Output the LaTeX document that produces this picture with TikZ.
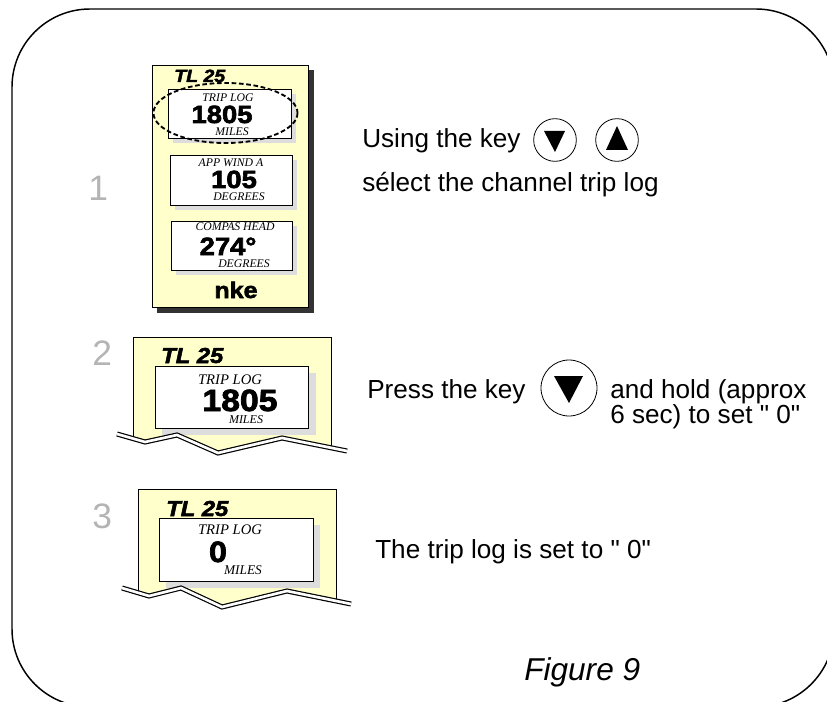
\documentclass[tikz,border=0pt]{standalone}
\usepackage{fontspec}
\setmainfont{Liberation Sans}
\newfontfamily\txtfont{Liberation Sans}
\newfontfamily\lcdfont{Liberation Serif}
\newfontfamily\heavyfont[UprightFont=* Bold, ItalicFont=* Bold Italic, FakeBold=2.5, FakeStretch=1.1]{Liberation Sans}
\newcommand{\fsz}[1]{\fontsize{#1}{#1}\selectfont}
\definecolor{panelyellow}{HTML}{FFFFCC}
\definecolor{lcdshade}{HTML}{DDDDDD}
\definecolor{stepgray}{HTML}{B4B4B4}
\tikzset{
  txt/.style={anchor=base west,inner sep=0pt,font={\txtfont\fsz{19.6}}},
  steplabel/.style={anchor=base west,inner sep=0pt,text=stepgray,font=\fsz{26.5}},
  lcdtitle/.style={anchor=base,inner sep=0pt,font={\lcdfont\itshape\fsz{#1}}},
  lcdvalue/.style={anchor=base,inner sep=0pt,font={\heavyfont\fsz{#1}}},
  tlname/.style={anchor=base west,inner sep=0pt,font={\heavyfont\itshape\fsz{#1}}},
  keyring/.style={circle,draw,line width=0.6pt,inner sep=0pt,minimum size=#1},
  breakline/.style={line width=0.9pt,double=white,double distance=2pt},
}
\begin{document}
\begin{tikzpicture}[x=0.75pt,y=0.75pt,yscale=-1,xscale=1]
\useasboundingbox (0,0) rectangle (827,702);

%Shape: Outer frame
\draw [line width=1.1pt, rounded corners=58.5pt] (12,9) rectangle (834,707);

%Shape: Panel 1
\fill [black!80] (157,70) rectangle (314,313);
\draw [fill=panelyellow, line width=0.6pt] (152,65) rectangle (308,307);
%Shape: Displays of panel 1
\fill [lcdshade] (173,94) rectangle (296,143);
\draw [fill=white, line width=0.6pt] (168,89) rectangle (291,138);
\fill [lcdshade] (175,160) rectangle (297,210);
\draw [fill=white, line width=0.6pt] (170,155) rectangle (292,205);
\fill [lcdshade] (176,226) rectangle (297,275);
\draw [fill=white, line width=0.6pt] (171,221) rectangle (292,270);

% Text Node
\node [tlname=13.3] (tlone) at (174,82) {TL 25};
\node [lcdtitle=8.8] (titleone) at (228,102) {TRIP LOG};
\node [lcdvalue=18.7] (valueone) at (222,123) {1805};
\node [lcdtitle=8.8] (unitone) at (232,136) {MILES};
\node [lcdtitle=8.8] (titletwo) at (231,167) {APP WIND A};
\node [lcdvalue=18.7] (valuetwo) at (234,188) {105};
\node [lcdtitle=8.8] (unittwo) at (239,201) {DEGREES};
\node [lcdtitle=8.8] (titlethree) at (235,230) {COMPAS HEAD};
\node [lcdvalue=18.7] (valuethree) at (228,255) {274°};
\node [lcdtitle=8.8] (unitthree) at (244,267) {DEGREES};
\node [lcdvalue=17] (brand) at (236,298) {nke};

%Shape: Dashed ellipse
\draw [line width=1.4pt, dash pattern={on 3.5pt off 2pt}] (225.5,113) ellipse [x radius=72, y radius=30];

%Shape: Panel 2
\fill [panelyellow] (133,439) -- (133,337) -- (331,337) -- (331,448) -- (282,438) -- (218,453) -- (177,435) -- (145,442) -- cycle;
\draw [line width=0.6pt] (133,439) -- (133,337) -- (331,337) -- (331,448);
\fill [lcdshade] (162,373) rectangle (316,435);
\draw [fill=white, line width=0.6pt] (155,366) rectangle (308,428);
%Straight Lines: Break of panel 2
\draw [breakline] (117,434) -- (145,442) -- (177,435) -- (218,453) -- (282,438) -- (347,451);

% Text Node
\node [tlname=16.2] (tlpress) at (161,363) {TL 25};
\node [lcdtitle=11] (titlepress) at (230,384) {TRIP LOG};
\node [lcdvalue=23] (valuepress) at (240,411) {1805};
\node [lcdtitle=9] (unitpress) at (246,423) {MILES};

%Shape: Panel 3
\fill [panelyellow] (138,593) -- (138,489) -- (336,489) -- (336,601) -- (287,591) -- (222,607) -- (181,588) -- (149,596) -- cycle;
\draw [line width=0.6pt] (138,593) -- (138,489) -- (336,489) -- (336,601);
\fill [lcdshade] (166,525) rectangle (320,588);
\draw [fill=white, line width=0.6pt] (159,518) rectangle (313,581);
%Straight Lines: Break of panel 3
\draw [breakline] (122,588) -- (149,596) -- (181,588) -- (222,607) -- (287,591) -- (351,604);

% Text Node
\node [tlname=16.2] (tlzero) at (166,516) {TL 25};
\node [lcdtitle=11] (titlezero) at (230,534) {TRIP LOG};
\node [lcdvalue=22] (valuezero) at (218,562) {0};
\node [lcdtitle=10] (unitzero) at (243,574) {MILES};

% Text Node
\node [steplabel] (stepone) at (88,201) {1};
\node [steplabel] (steptwo) at (92,365) {2};
\node [steplabel] (stepthree) at (92,528) {3};

%Shape: Keys
\node [keyring=32pt] (keydown) at (555,140) {};
\fill (544,131) -- (565,131) -- (555,152) -- cycle;
\node [keyring=32pt] (keyup) at (617,140) {};
\fill (606,150) -- (628,150) -- (617,126) -- cycle;
\node [keyring=42pt] (keyhold) at (569,388) {};
\fill (554,376) -- (583,376) -- (569,403) -- cycle;

% Text Node
\node [txt] (usingtext) at (362,148) {Using the key};
\node [txt] (selecttext) at (362,192) {sélect the channel trip log};
\node [txt] (presstext) at (367,398) {Press the key};
\node [txt] (holdtext) at (610,398) {and hold (approx};
\node [txt] (settext) at (610,423) {6 sec) to set " 0"};
\node [txt] (donetext) at (375,558) {The trip log is set to " 0"};
\node [anchor=base west, inner sep=0pt, font=\itshape\fsz{23.7}] (figtext) at (524,680) {Figure 9};

\end{tikzpicture}
\end{document}
